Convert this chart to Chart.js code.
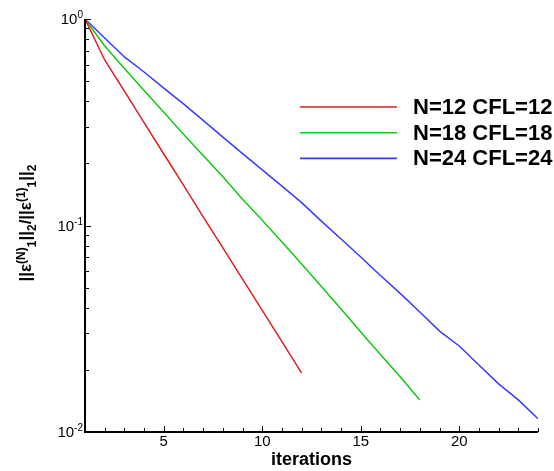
<!DOCTYPE html>
<html>
<head>
<meta charset="utf-8">
<script src="https://cdn.jsdelivr.net/npm/chart.js@4"></script>
<style>
  html, body { margin: 0; padding: 0; background: #fff; }
  #wrap { width: 554px; height: 471px; position: relative; }
</style>
</head>
<body>
<div id="wrap"><canvas id="chart"></canvas></div>
<script>
// residual convergence, log y
const ITERATIONS = [1, 2, 3, 4, 5, 6, 7, 8, 9, 10, 11, 12, 13, 14, 15, 16, 17, 18, 19, 20, 21, 22, 23, 24];
const LABELS = ["N=12 CFL=12", "N=18 CFL=18", "N=24 CFL=24"];
const COLORS = ["#dd1f1f", "#11c811", "#3a3aff"];
const RED = [1, 0.633, 0.447, 0.315, 0.222, 0.157, 0.110, 0.078, 0.055, 0.0388, 0.0274, 0.0193];
const GREEN = [1, 0.740, 0.576, 0.451, 0.354, 0.277, 0.218, 0.172, 0.134, 0.106, 0.0831, 0.0651,
  0.0507, 0.0394, 0.0305, 0.0237, 0.0185, 0.0143];
const BLUE = [1, 0.809, 0.655, 0.554, 0.463, 0.388, 0.323, 0.268, 0.223, 0.186, 0.155, 0.129,
  0.105, 0.086, 0.0704, 0.0573, 0.0469, 0.0381, 0.0308, 0.0261, 0.0211, 0.0171, 0.0143, 0.0116];
const X_LABELS = [5, 10, 15, 20];
const Y_DECADES = [1, 0.1, 0.01];
const Y_EXPONENTS = ["0", "-1", "-2"];
const Y_MANTISSA = [2, 3, 4, 5, 6, 7, 8, 9];

const FONT = "Arial, 'Liberation Sans', sans-serif";
const SERIES = [RED, GREEN, BLUE];

const toXY = (vals) => vals.map((v, i) => ({ x: ITERATIONS[i], y: v }));

// axes, ticks, labels, legend drawn by hand (inward ticks, superscripts)
const decor = {
  id: "decor",
  afterDraw(chart) {
    const { ctx, chartArea: a, scales: { x, y } } = chart;
    ctx.save();
    ctx.strokeStyle = "#000";
    ctx.fillStyle = "#000";

    // axis lines
    ctx.lineWidth = 2;
    ctx.beginPath();
    ctx.moveTo(a.left, a.top);
    ctx.lineTo(a.left, a.bottom);
    ctx.lineTo(a.right, a.bottom);
    ctx.stroke();

    // x ticks
    ctx.lineWidth = 1;
    ctx.beginPath();
    ITERATIONS.forEach((it) => {
      const px = Math.round(x.getPixelForValue(it)) + 0.5;
      const len = X_LABELS.includes(it) ? 6 : 4;
      ctx.moveTo(px, a.bottom);
      ctx.lineTo(px, a.bottom - len);
    });
    // y ticks
    Y_DECADES.forEach((d) => {
      const py = Math.round(y.getPixelForValue(d)) + 0.5;
      ctx.moveTo(a.left, py);
      ctx.lineTo(a.left + 6, py);
      if (d < 1) {
        Y_MANTISSA.forEach((m) => {
          const pm = Math.round(y.getPixelForValue(d * m)) + 0.5;
          ctx.moveTo(a.left, pm);
          ctx.lineTo(a.left + 4, pm);
        });
      }
    });
    ctx.stroke();

    // x tick labels
    ctx.font = `15px ${FONT}`;
    ctx.textAlign = "center";
    ctx.textBaseline = "middle";
    X_LABELS.forEach((v) => ctx.fillText(String(v), x.getPixelForValue(v), a.bottom + 10));

    // y tick labels 10^k
    Y_DECADES.forEach((d, i) => {
      const py = y.getPixelForValue(d);
      ctx.font = `10px ${FONT}`;
      const ew = ctx.measureText(Y_EXPONENTS[i]).width;
      const right = a.left - 2;
      ctx.textAlign = "left";
      ctx.textBaseline = "alphabetic";
      ctx.fillText(Y_EXPONENTS[i], right - ew, py - 1);
      ctx.font = `15px ${FONT}`;
      ctx.textAlign = "right";
      ctx.textBaseline = "middle";
      ctx.fillText("10", right - ew, py + 1);
    });

    // x title
    ctx.font = `bold 18px ${FONT}`;
    ctx.textAlign = "center";
    ctx.textBaseline = "middle";
    ctx.fillText("iterations", (a.left + a.right) / 2, a.bottom + 28);

    // y title ||ε^(N)_1||_2/||ε^(1)_1||_2
    const parts = [
      ["||ε", 0, 17], ["(N)", -6, 12], ["1", 5, 12], ["||", 0, 17], ["2", 5, 12], ["/", 0, 17],
      ["||ε", 0, 17], ["(1)", -6, 12], ["1", 5, 12], ["||", 0, 17], ["2", 5, 12],
    ];
    ctx.translate(31, 223);
    ctx.rotate(-Math.PI / 2);
    ctx.textAlign = "left";
    ctx.textBaseline = "alphabetic";
    let total = 0;
    parts.forEach(([t, , s]) => { ctx.font = `bold ${s}px ${FONT}`; total += ctx.measureText(t).width; });
    let cx = -total / 2;
    parts.forEach(([t, dy, s]) => {
      ctx.font = `bold ${s}px ${FONT}`;
      ctx.fillText(t, cx, dy);
      cx += ctx.measureText(t).width;
    });
    ctx.setTransform(1, 0, 0, 1, 0, 0);

    // legend
    ctx.font = `bold 22px ${FONT}`;
    ctx.textAlign = "left";
    ctx.textBaseline = "middle";
    chart.data.datasets.forEach((ds, i) => {
      const ly = 107 + i * 25.7;
      ctx.strokeStyle = ds.borderColor;
      ctx.lineWidth = 1.6;
      ctx.beginPath();
      ctx.moveTo(300, ly);
      ctx.lineTo(397, ly);
      ctx.stroke();
      ctx.fillStyle = "#000";
      ctx.fillText(ds.label, 413, ly + 1);
    });
    ctx.restore();
  },
};

new Chart(document.getElementById("chart"), {
  type: "line",
  data: {
    datasets: SERIES.map((vals, i) => ({
      label: LABELS[i], data: toXY(vals), borderColor: COLORS[i],
      borderWidth: 1.5, pointRadius: 0, tension: 0, fill: false,
    })),
  },
  options: {
    responsive: true, maintainAspectRatio: false, animation: false,
    layout: { padding: { left: 85, right: 16, top: 19, bottom: 39 } },
    scales: {
      x: { type: "linear", min: 1, max: 24, display: false },
      y: { type: "logarithmic", min: 0.01, max: 1, display: false },
    },
    plugins: { legend: { display: false }, tooltip: { enabled: false } },
  },
  plugins: [decor],
});
</script>
</body>
</html>
